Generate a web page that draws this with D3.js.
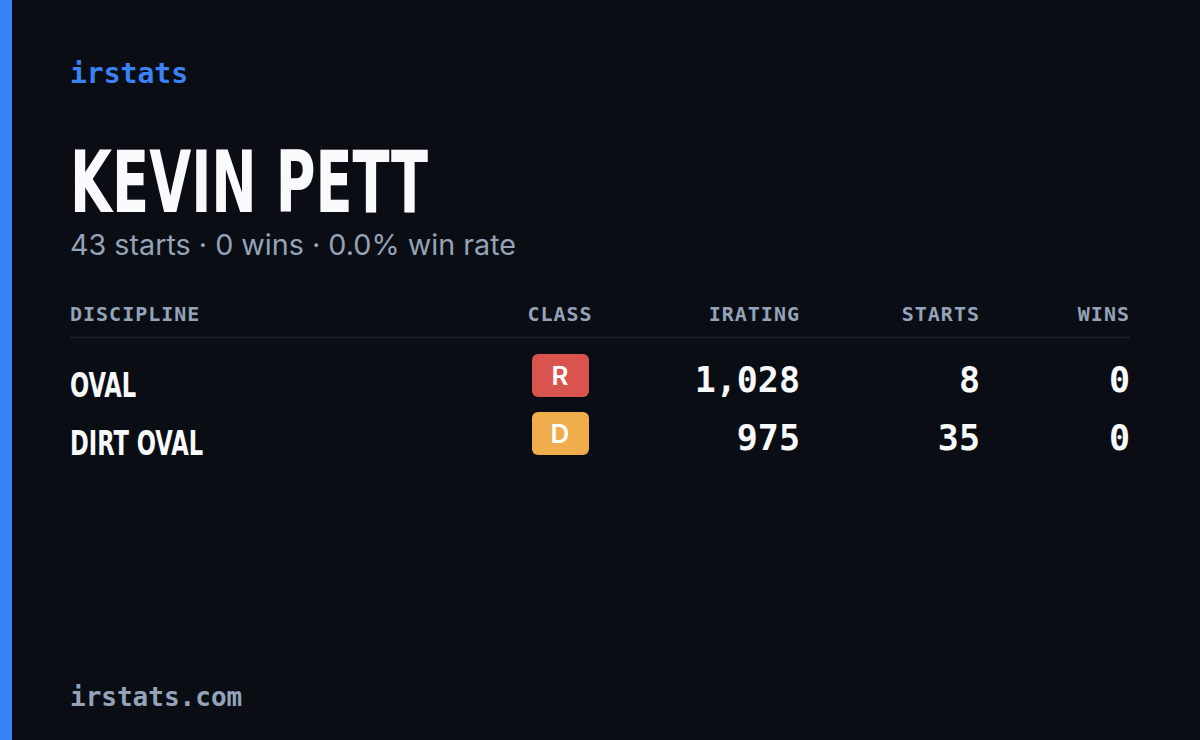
<!DOCTYPE html>
<html lang="en">
<head>
<meta charset="UTF-8">
<title>irstats card</title>
<script src="https://cdnjs.cloudflare.com/ajax/libs/d3/7.8.5/d3.min.js"></script>
<style>
  body { margin: 0; background: #0a0d14; }
  .mono { font-family: "DejaVu Sans Mono", monospace; }
  .cond { font-family: "Liberation Sans Narrow", "DejaVu Sans Condensed", sans-serif; font-stretch: condensed; font-weight: bold; }
  .sans { font-family: Inter, "Noto Sans", sans-serif; }
</style>
</head>
<body>
<div id="card"></div>
<script>
const driver = "KEVIN PETT";
const subtitle = "43 starts · 0 wins · 0.0% win rate";
const headers = ["DISCIPLINE", "CLASS", "IRATING", "STARTS", "WINS"];
const disciplines = ["OVAL", "DIRT OVAL"];
const classes = ["R", "D"];
const classColors = ["#d9534f", "#f0ad4e"];
const iratings = [1028, 975];
const starts = [8, 35];
const wins = [0, 0];

const width = 1200, height = 740;
const svg = d3.select("#card").append("svg")
  .attr("width", width).attr("height", height);

svg.append("rect").attr("width", width).attr("height", height).attr("fill", "#0a0d14");
svg.append("rect").attr("width", 12).attr("height", height).attr("fill", "#3b82f6");

svg.append("text").attr("class", "mono").attr("x", 70).attr("y", 83)
  .attr("font-size", 28).attr("font-weight", 600).attr("fill", "#3b82f6").text("irstats");

svg.append("text").attr("class", "cond").attr("x", 70).attr("y", 212)
  .attr("font-size", 86).attr("fill", "#f8fafc").attr("textLength", 358)
  .attr("lengthAdjust", "spacingAndGlyphs").text(driver);

svg.append("text").attr("class", "sans").attr("x", 70).attr("y", 255)
  .attr("font-size", 28).attr("fill", "#94a3b8").attr("textLength", 446)
  .attr("lengthAdjust", "spacingAndGlyphs").text(subtitle);

// columns: x anchor and alignment
const cols = [
  { x: 70, anchor: "start" },
  { x: 560, anchor: "middle" },
  { x: 800, anchor: "end" },
  { x: 980, anchor: "end" },
  { x: 1130, anchor: "end" }
];

svg.selectAll("text.hdr").data(headers).enter().append("text")
  .attr("class", "mono hdr")
  .attr("x", (d, i) => cols[i].x).attr("y", 321)
  .attr("text-anchor", (d, i) => cols[i].anchor)
  .attr("font-size", 20).attr("font-weight", 600).attr("letter-spacing", 1).attr("fill", "#94a3b8")
  .text(d => d);

svg.append("line").attr("x1", 70).attr("x2", 1130).attr("y1", 337.5).attr("y2", 337.5)
  .attr("stroke", "#1e2330").attr("stroke-width", 1.5);

const y = d3.scaleBand().domain(disciplines).range([347, 463]).padding(0);
const fmt = d3.format(",");

const rows = svg.selectAll("g.row").data(disciplines).enter().append("g")
  .attr("transform", d => `translate(0,${y(d)})`);

rows.append("text").attr("class", "cond")
  .attr("transform", "translate(70,50) scale(0.74,1)")
  .attr("font-size", 34).attr("fill", "#f8fafc").text(d => d);

rows.append("rect").attr("x", 532).attr("y", 7).attr("width", 57).attr("height", 43)
  .attr("rx", 6).attr("fill", (d, i) => classColors[i]);
rows.append("text").attr("class", "sans").attr("x", 560).attr("y", 38)
  .attr("text-anchor", "middle").attr("font-size", 26).attr("font-weight", 600)
  .attr("fill", "#ffffff").text((d, i) => classes[i]);

const nums = [iratings.map(fmt), starts, wins];
nums.forEach((vals, k) => {
  rows.append("text").attr("class", "mono")
    .attr("x", cols[k + 2].x).attr("y", 45)
    .attr("text-anchor", "end").attr("font-size", 35).attr("font-weight", 600)
    .attr("fill", "#f8fafc").text((d, i) => vals[i]);
});

svg.append("text").attr("class", "mono").attr("x", 70).attr("y", 706)
  .attr("font-size", 26).attr("font-weight", 600).attr("fill", "#94a3b8").text("irstats.com");
</script>
</body>
</html>
